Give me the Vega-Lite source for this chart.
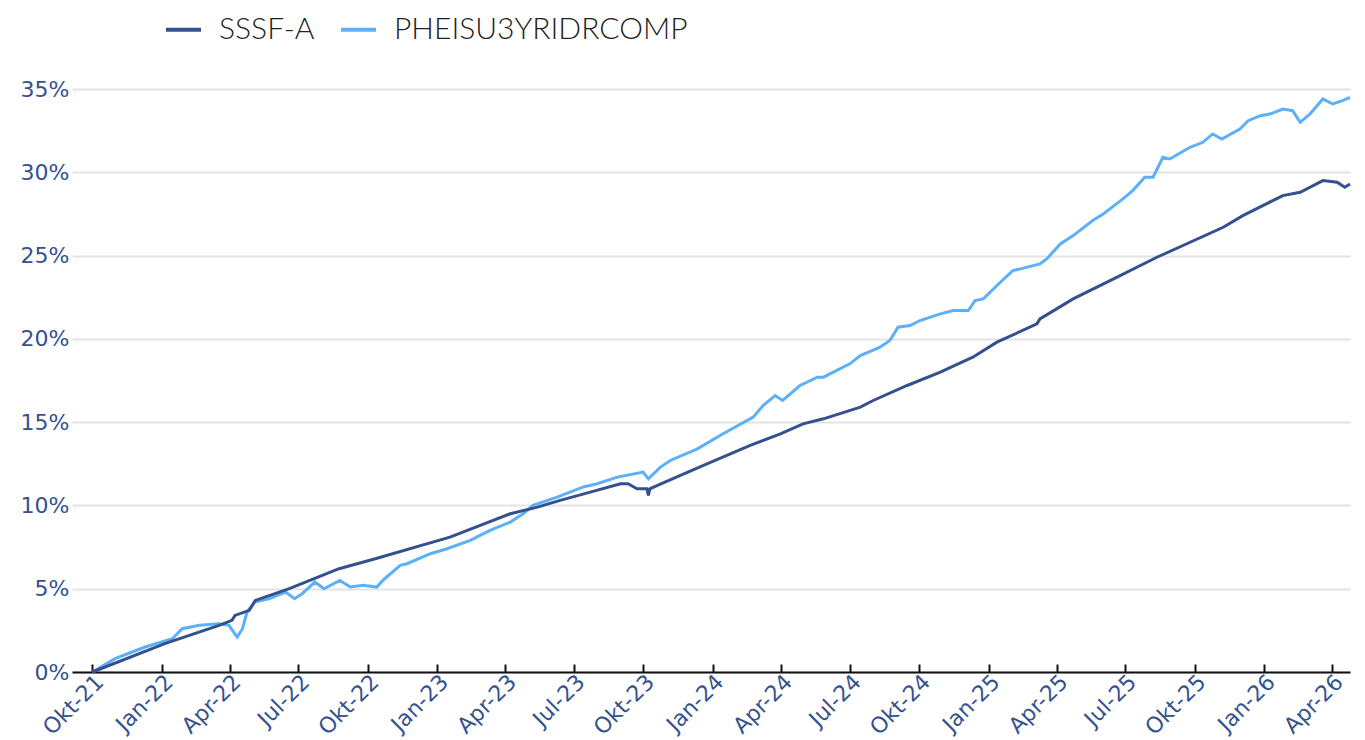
{
  "$schema": "https://vega.github.io/schema/vega-lite/v6.json",
  "width": 1278,
  "height": 583,
  "autosize": {"type": "none"},
  "padding": {"left": 72, "top": 89, "right": 15, "bottom": 68},
  "background": "white",
  "config": {"view": {"stroke": null}},
  "datasets": {
    "series": [
      {"series": "SSSF-A", "date": "2021-10-01", "value": 0.0},
      {"series": "SSSF-A", "date": "2022-01-05", "value": 1.7},
      {"series": "SSSF-A", "date": "2022-03-18", "value": 2.8},
      {"series": "SSSF-A", "date": "2022-04-04", "value": 3.1},
      {"series": "SSSF-A", "date": "2022-04-08", "value": 3.4},
      {"series": "SSSF-A", "date": "2022-04-27", "value": 3.7},
      {"series": "SSSF-A", "date": "2022-05-05", "value": 4.3},
      {"series": "SSSF-A", "date": "2022-06-19", "value": 5.0},
      {"series": "SSSF-A", "date": "2022-08-24", "value": 6.2},
      {"series": "SSSF-A", "date": "2022-10-11", "value": 6.8},
      {"series": "SSSF-A", "date": "2023-01-18", "value": 8.1},
      {"series": "SSSF-A", "date": "2023-04-08", "value": 9.5},
      {"series": "SSSF-A", "date": "2023-05-14", "value": 9.9},
      {"series": "SSSF-A", "date": "2023-06-13", "value": 10.3},
      {"series": "SSSF-A", "date": "2023-07-23", "value": 10.8},
      {"series": "SSSF-A", "date": "2023-09-01", "value": 11.3},
      {"series": "SSSF-A", "date": "2023-09-11", "value": 11.3},
      {"series": "SSSF-A", "date": "2023-09-23", "value": 11.0},
      {"series": "SSSF-A", "date": "2023-10-06", "value": 11.0},
      {"series": "SSSF-A", "date": "2023-10-08", "value": 10.6},
      {"series": "SSSF-A", "date": "2023-10-10", "value": 11.0},
      {"series": "SSSF-A", "date": "2023-10-20", "value": 11.2},
      {"series": "SSSF-A", "date": "2023-12-20", "value": 12.4},
      {"series": "SSSF-A", "date": "2024-02-20", "value": 13.6},
      {"series": "SSSF-A", "date": "2024-03-31", "value": 14.3},
      {"series": "SSSF-A", "date": "2024-04-30", "value": 14.9},
      {"series": "SSSF-A", "date": "2024-05-27", "value": 15.2},
      {"series": "SSSF-A", "date": "2024-07-15", "value": 15.9},
      {"series": "SSSF-A", "date": "2024-08-01", "value": 16.3},
      {"series": "SSSF-A", "date": "2024-09-15", "value": 17.2},
      {"series": "SSSF-A", "date": "2024-10-29", "value": 18.0},
      {"series": "SSSF-A", "date": "2024-12-11", "value": 18.9},
      {"series": "SSSF-A", "date": "2025-01-12", "value": 19.8},
      {"series": "SSSF-A", "date": "2025-03-06", "value": 20.9},
      {"series": "SSSF-A", "date": "2025-03-10", "value": 21.2},
      {"series": "SSSF-A", "date": "2025-04-23", "value": 22.4},
      {"series": "SSSF-A", "date": "2025-06-11", "value": 23.5},
      {"series": "SSSF-A", "date": "2025-08-12", "value": 24.9},
      {"series": "SSSF-A", "date": "2025-11-08", "value": 26.7},
      {"series": "SSSF-A", "date": "2025-12-04", "value": 27.4},
      {"series": "SSSF-A", "date": "2026-01-26", "value": 28.6},
      {"series": "SSSF-A", "date": "2026-02-18", "value": 28.8},
      {"series": "SSSF-A", "date": "2026-03-20", "value": 29.5},
      {"series": "SSSF-A", "date": "2026-04-08", "value": 29.4},
      {"series": "SSSF-A", "date": "2026-04-18", "value": 29.1},
      {"series": "SSSF-A", "date": "2026-04-25", "value": 29.3},
      {"series": "PHEISU3YRIDRCOMP", "date": "2021-10-01", "value": 0.0},
      {"series": "PHEISU3YRIDRCOMP", "date": "2021-10-31", "value": 0.8},
      {"series": "PHEISU3YRIDRCOMP", "date": "2021-12-10", "value": 1.5},
      {"series": "PHEISU3YRIDRCOMP", "date": "2022-01-15", "value": 2.0},
      {"series": "PHEISU3YRIDRCOMP", "date": "2022-01-28", "value": 2.6},
      {"series": "PHEISU3YRIDRCOMP", "date": "2022-02-20", "value": 2.8},
      {"series": "PHEISU3YRIDRCOMP", "date": "2022-03-18", "value": 2.9},
      {"series": "PHEISU3YRIDRCOMP", "date": "2022-03-31", "value": 2.8},
      {"series": "PHEISU3YRIDRCOMP", "date": "2022-04-11", "value": 2.1},
      {"series": "PHEISU3YRIDRCOMP", "date": "2022-04-18", "value": 2.6},
      {"series": "PHEISU3YRIDRCOMP", "date": "2022-04-24", "value": 3.6},
      {"series": "PHEISU3YRIDRCOMP", "date": "2022-05-04", "value": 4.2},
      {"series": "PHEISU3YRIDRCOMP", "date": "2022-05-23", "value": 4.4},
      {"series": "PHEISU3YRIDRCOMP", "date": "2022-06-14", "value": 4.8},
      {"series": "PHEISU3YRIDRCOMP", "date": "2022-06-26", "value": 4.4},
      {"series": "PHEISU3YRIDRCOMP", "date": "2022-07-06", "value": 4.7},
      {"series": "PHEISU3YRIDRCOMP", "date": "2022-07-23", "value": 5.4},
      {"series": "PHEISU3YRIDRCOMP", "date": "2022-08-04", "value": 5.0},
      {"series": "PHEISU3YRIDRCOMP", "date": "2022-08-25", "value": 5.5},
      {"series": "PHEISU3YRIDRCOMP", "date": "2022-09-08", "value": 5.1},
      {"series": "PHEISU3YRIDRCOMP", "date": "2022-09-25", "value": 5.2},
      {"series": "PHEISU3YRIDRCOMP", "date": "2022-10-13", "value": 5.1},
      {"series": "PHEISU3YRIDRCOMP", "date": "2022-10-21", "value": 5.5},
      {"series": "PHEISU3YRIDRCOMP", "date": "2022-11-13", "value": 6.4},
      {"series": "PHEISU3YRIDRCOMP", "date": "2022-11-22", "value": 6.5},
      {"series": "PHEISU3YRIDRCOMP", "date": "2022-12-23", "value": 7.1},
      {"series": "PHEISU3YRIDRCOMP", "date": "2023-01-14", "value": 7.4},
      {"series": "PHEISU3YRIDRCOMP", "date": "2023-02-14", "value": 7.9},
      {"series": "PHEISU3YRIDRCOMP", "date": "2023-03-12", "value": 8.5},
      {"series": "PHEISU3YRIDRCOMP", "date": "2023-04-08", "value": 9.0},
      {"series": "PHEISU3YRIDRCOMP", "date": "2023-04-25", "value": 9.5},
      {"series": "PHEISU3YRIDRCOMP", "date": "2023-05-08", "value": 10.0},
      {"series": "PHEISU3YRIDRCOMP", "date": "2023-06-09", "value": 10.5},
      {"series": "PHEISU3YRIDRCOMP", "date": "2023-07-13", "value": 11.1},
      {"series": "PHEISU3YRIDRCOMP", "date": "2023-08-01", "value": 11.3},
      {"series": "PHEISU3YRIDRCOMP", "date": "2023-08-28", "value": 11.7},
      {"series": "PHEISU3YRIDRCOMP", "date": "2023-10-01", "value": 12.0},
      {"series": "PHEISU3YRIDRCOMP", "date": "2023-10-08", "value": 11.6},
      {"series": "PHEISU3YRIDRCOMP", "date": "2023-10-24", "value": 12.3},
      {"series": "PHEISU3YRIDRCOMP", "date": "2023-11-06", "value": 12.7},
      {"series": "PHEISU3YRIDRCOMP", "date": "2023-12-12", "value": 13.4},
      {"series": "PHEISU3YRIDRCOMP", "date": "2024-01-15", "value": 14.3},
      {"series": "PHEISU3YRIDRCOMP", "date": "2024-02-24", "value": 15.3},
      {"series": "PHEISU3YRIDRCOMP", "date": "2024-03-08", "value": 16.0},
      {"series": "PHEISU3YRIDRCOMP", "date": "2024-03-24", "value": 16.6},
      {"series": "PHEISU3YRIDRCOMP", "date": "2024-04-03", "value": 16.3},
      {"series": "PHEISU3YRIDRCOMP", "date": "2024-04-26", "value": 17.2},
      {"series": "PHEISU3YRIDRCOMP", "date": "2024-05-19", "value": 17.7},
      {"series": "PHEISU3YRIDRCOMP", "date": "2024-05-27", "value": 17.7},
      {"series": "PHEISU3YRIDRCOMP", "date": "2024-07-01", "value": 18.5},
      {"series": "PHEISU3YRIDRCOMP", "date": "2024-07-15", "value": 19.0},
      {"series": "PHEISU3YRIDRCOMP", "date": "2024-08-10", "value": 19.5},
      {"series": "PHEISU3YRIDRCOMP", "date": "2024-08-23", "value": 19.9},
      {"series": "PHEISU3YRIDRCOMP", "date": "2024-09-03", "value": 20.7},
      {"series": "PHEISU3YRIDRCOMP", "date": "2024-09-19", "value": 20.8},
      {"series": "PHEISU3YRIDRCOMP", "date": "2024-10-02", "value": 21.1},
      {"series": "PHEISU3YRIDRCOMP", "date": "2024-10-29", "value": 21.5},
      {"series": "PHEISU3YRIDRCOMP", "date": "2024-11-15", "value": 21.7},
      {"series": "PHEISU3YRIDRCOMP", "date": "2024-12-05", "value": 21.7},
      {"series": "PHEISU3YRIDRCOMP", "date": "2024-12-14", "value": 22.3},
      {"series": "PHEISU3YRIDRCOMP", "date": "2024-12-25", "value": 22.4},
      {"series": "PHEISU3YRIDRCOMP", "date": "2025-01-12", "value": 23.2},
      {"series": "PHEISU3YRIDRCOMP", "date": "2025-02-02", "value": 24.1},
      {"series": "PHEISU3YRIDRCOMP", "date": "2025-02-12", "value": 24.2},
      {"series": "PHEISU3YRIDRCOMP", "date": "2025-03-10", "value": 24.5},
      {"series": "PHEISU3YRIDRCOMP", "date": "2025-03-19", "value": 24.8},
      {"series": "PHEISU3YRIDRCOMP", "date": "2025-04-06", "value": 25.7},
      {"series": "PHEISU3YRIDRCOMP", "date": "2025-04-23", "value": 26.2},
      {"series": "PHEISU3YRIDRCOMP", "date": "2025-05-19", "value": 27.1},
      {"series": "PHEISU3YRIDRCOMP", "date": "2025-06-02", "value": 27.5},
      {"series": "PHEISU3YRIDRCOMP", "date": "2025-06-28", "value": 28.4},
      {"series": "PHEISU3YRIDRCOMP", "date": "2025-07-11", "value": 28.9},
      {"series": "PHEISU3YRIDRCOMP", "date": "2025-07-27", "value": 29.7},
      {"series": "PHEISU3YRIDRCOMP", "date": "2025-08-07", "value": 29.7},
      {"series": "PHEISU3YRIDRCOMP", "date": "2025-08-20", "value": 30.9},
      {"series": "PHEISU3YRIDRCOMP", "date": "2025-08-29", "value": 30.8},
      {"series": "PHEISU3YRIDRCOMP", "date": "2025-09-25", "value": 31.5},
      {"series": "PHEISU3YRIDRCOMP", "date": "2025-10-12", "value": 31.8},
      {"series": "PHEISU3YRIDRCOMP", "date": "2025-10-25", "value": 32.3},
      {"series": "PHEISU3YRIDRCOMP", "date": "2025-11-06", "value": 32.0},
      {"series": "PHEISU3YRIDRCOMP", "date": "2025-11-30", "value": 32.6},
      {"series": "PHEISU3YRIDRCOMP", "date": "2025-12-11", "value": 33.1},
      {"series": "PHEISU3YRIDRCOMP", "date": "2025-12-27", "value": 33.4},
      {"series": "PHEISU3YRIDRCOMP", "date": "2026-01-09", "value": 33.5},
      {"series": "PHEISU3YRIDRCOMP", "date": "2026-01-26", "value": 33.8},
      {"series": "PHEISU3YRIDRCOMP", "date": "2026-02-08", "value": 33.7},
      {"series": "PHEISU3YRIDRCOMP", "date": "2026-02-18", "value": 33.0},
      {"series": "PHEISU3YRIDRCOMP", "date": "2026-03-03", "value": 33.5},
      {"series": "PHEISU3YRIDRCOMP", "date": "2026-03-20", "value": 34.4},
      {"series": "PHEISU3YRIDRCOMP", "date": "2026-04-02", "value": 34.1},
      {"series": "PHEISU3YRIDRCOMP", "date": "2026-04-15", "value": 34.3},
      {"series": "PHEISU3YRIDRCOMP", "date": "2026-04-25", "value": 34.5}
    ]
  },
  "data": {"name": "series"},
  "encoding": {
    "x": {
      "field": "date",
      "type": "temporal",
      "title": null,
      "scale": {
        "type": "utc",
        "domain": [
          {"year": 2021, "month": "Sep", "date": 4, "utc": true},
          {"year": 2026, "month": "Apr", "date": 25, "utc": true}
        ]
      },
      "axis": {
        "tickCount": {"interval": "month", "step": 3},
        "labelExpr": "['Jan','Feb','Mär','Apr','Mai','Jun','Jul','Aug','Sep','Okt','Nov','Dez'][utcmonth(datum.value)] + '-' + utcFormat(datum.value, '%y')",
        "labelAngle": -45,
        "labelAlign": "right",
        "labelBaseline": "top",
        "labelFont": "DejaVu Sans",
        "labelFontSize": 22,
        "labelColor": "#34528f",
        "labelPadding": 7,
        "labelOverlap": false,
        "labelFlush": false,
        "grid": false,
        "domainColor": "#111111",
        "domainWidth": 2,
        "tickColor": "#111111",
        "tickWidth": 2,
        "tickSize": -8
      }
    },
    "y": {
      "field": "value",
      "type": "quantitative",
      "title": null,
      "scale": {"domain": [0, 35], "nice": false, "zero": true},
      "axis": {
        "values": [0, 5, 10, 15, 20, 25, 30, 35],
        "labelExpr": "datum.value + '%'",
        "labelFont": "DejaVu Sans",
        "labelFontSize": 22,
        "labelColor": "#34528f",
        "labelPadding": 3,
        "domain": false,
        "ticks": false,
        "gridColor": "#e3e3e3",
        "gridWidth": 2
      }
    },
    "color": {
      "field": "series",
      "type": "nominal",
      "scale": {
        "domain": ["SSSF-A", "PHEISU3YRIDRCOMP"],
        "range": ["#34508f", "#5cb0f7"]
      },
      "legend": {
        "title": null,
        "orient": "none",
        "legendX": 92,
        "legendY": -79,
        "direction": "horizontal",
        "symbolType": "stroke",
        "symbolSize": 1225,
        "symbolStrokeWidth": 4,
        "labelFont": "Lato",
        "labelFontWeight": 300,
        "labelFontSize": 30,
        "labelColor": "#222222",
        "labelOffset": 16,
        "columnPadding": 18,
        "labelLimit": 500
      }
    }
  },
  "layer": [
    {
      "transform": [{"filter": "datum.series === 'PHEISU3YRIDRCOMP'"}],
      "mark": {"type": "line", "strokeWidth": 3, "interpolate": "linear"}
    },
    {
      "transform": [{"filter": "datum.series === 'SSSF-A'"}],
      "mark": {"type": "line", "strokeWidth": 3, "interpolate": "linear"}
    }
  ]
}
